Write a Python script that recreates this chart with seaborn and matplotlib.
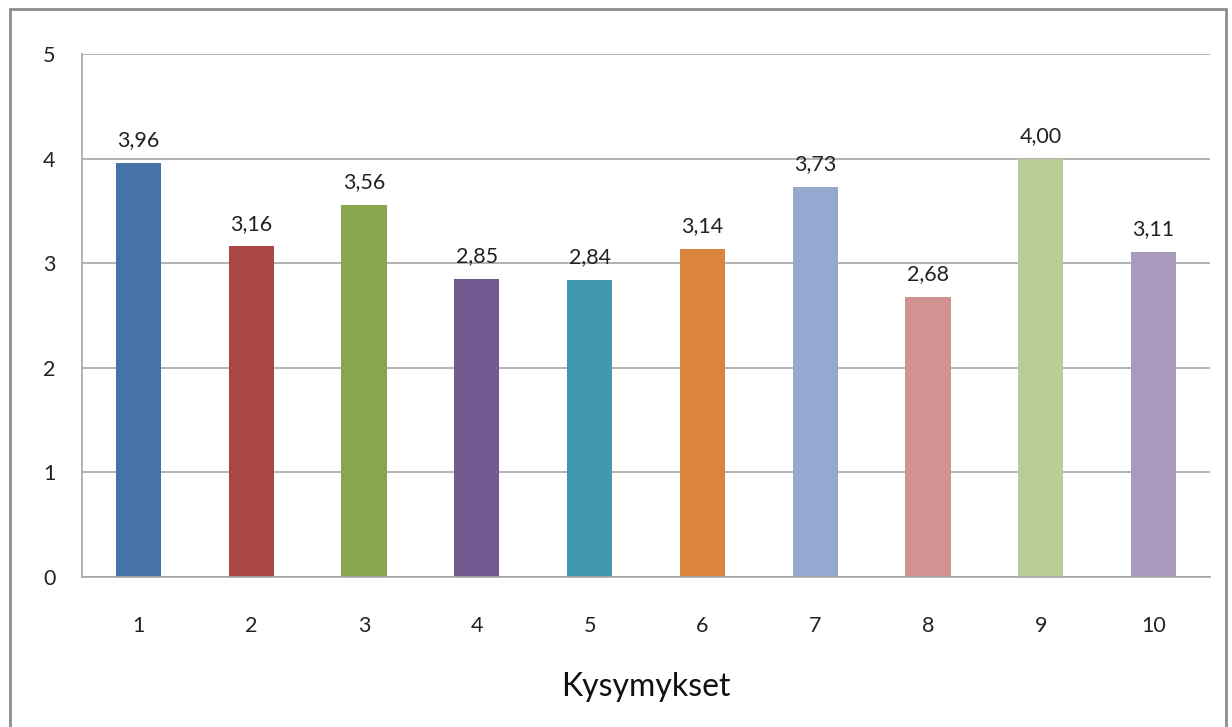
import numpy as np
import pandas as pd
import matplotlib.pyplot as plt
import matplotlib.patches as patches
import seaborn as sns

# data
questions = ['1', '2', '3', '4', '5', '6', '7', '8', '9', '10']
scores = [3.96, 3.16, 3.56, 2.85, 2.84, 3.14, 3.73, 2.68, 4.00, 3.11]
bar_colors = ['#4572A7', '#AA4643', '#89A54E', '#71588F', '#4198AF',
              '#DB843D', '#93A9CF', '#D19392', '#B9CD96', '#A99BBD']

df = pd.DataFrame({'Kysymykset': questions, 'score': scores})

sns.set_style('white')
plt.rcParams['font.family'] = ['Lato', 'DejaVu Sans']

fig = plt.figure(figsize=(12.32, 7.27), dpi=100)
ax = fig.add_axes([0.0666, 0.2063, 0.9155, 0.7194])

sns.barplot(data=df, x='Kysymykset', y='score', hue='Kysymykset',
            palette=bar_colors, legend=False, width=0.4, ax=ax,
            saturation=1, edgecolor='none')

grid_col = '#A6A6A6'
ax.set_ylim(0, 5)
ax.set_xlim(-0.5, len(questions) - 0.5)
ax.set_yticks(range(6))
ax.yaxis.grid(True, color=grid_col, linewidth=1.2)
ax.set_axisbelow(True)
for s in ['top', 'right']:
    ax.spines[s].set_visible(False)
for s in ['left', 'bottom']:
    ax.spines[s].set_color(grid_col)
    ax.spines[s].set_linewidth(1.2)

ax.tick_params(axis='y', length=7, color=grid_col, width=1.2,
               labelsize=15.5, labelcolor='#222222', pad=12)
ax.tick_params(axis='x', which='major', length=0, labelsize=15.5,
               labelcolor='#222222', pad=28)
ax.set_xticks(np.arange(-0.5, len(questions), 1.0), minor=True)
ax.tick_params(axis='x', which='minor', length=7, color=grid_col, width=1.2)

for i, v in enumerate(scores):
    ax.text(i, v + 0.12, f'{v:.2f}'.replace('.', ','), ha='center',
            va='bottom', fontsize=15.5, color='#222222')

ax.set_xlabel('Kysymykset', fontsize=23, color='#111111', labelpad=26)
ax.set_ylabel('')

# outer chart frame
fig.patches.append(patches.Rectangle((10 / 1232, -0.05), 1216 / 1232, 1.05 - 9 / 727,
                                     transform=fig.transFigure, fill=False,
                                     edgecolor='#8C8C8C', linewidth=2))

fig.savefig('out.png', dpi=100)
